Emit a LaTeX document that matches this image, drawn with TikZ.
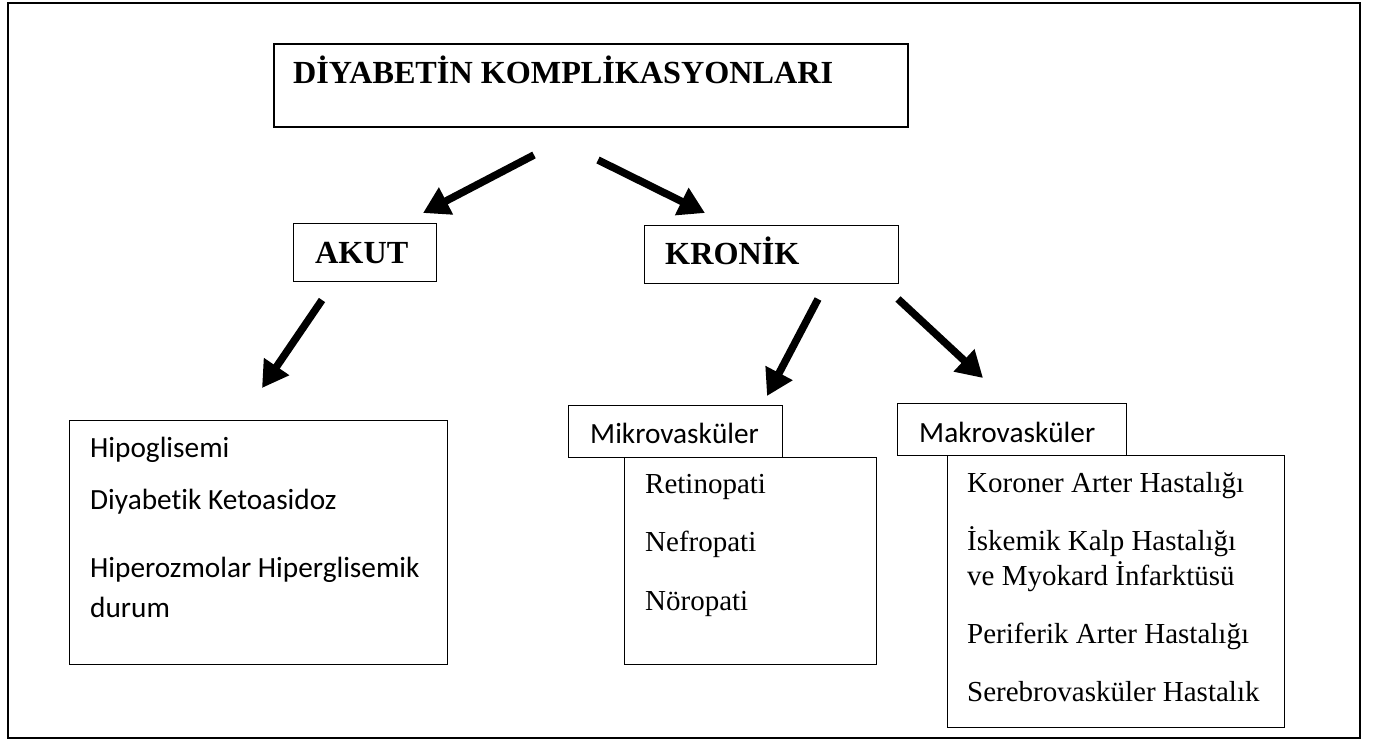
\documentclass[tikz,border=0pt]{standalone}
\usepackage{fontspec}
\setmainfont{Liberation Serif}
\newfontfamily\calfont[Ligatures=NoCommon]{Carlito}
\usetikzlibrary{arrows.meta}
\begin{document}
\begin{tikzpicture}[x=1pt,y=-1pt,
  boxbase/.style={draw, rectangle, inner sep=0pt, anchor=north west},
  heavybox/.style={boxbase, line width=1.7pt},
  midbox/.style={boxbase, line width=1.4pt},
  lightbox/.style={boxbase, line width=1.1pt},
  headtxt/.style={anchor=base west, inner sep=0pt, font=\fontsize{32.2}{38}\selectfont\bfseries},
  sertxt/.style={anchor=base west, inner sep=0pt, font=\fontsize{29}{34}\selectfont},
  caltxt/.style={anchor=base west, inner sep=0pt, font=\calfont\fontsize{29.3}{35}\selectfont},
  bigarrow/.style={line width=7.5pt, -{Triangle[width=29pt,length=26pt]}}
]
\useasboundingbox (0,0) rectangle (1375,742);

% outer frame
\node[heavybox, minimum width=1352pt, minimum height=735pt] (outer) at (7,2) {};

% boxes
\node[heavybox, minimum width=634pt, minimum height=83pt] (title) at (273,43) {};
\node[midbox, minimum width=143pt, minimum height=58pt] (akut) at (293,223) {};
\node[midbox, minimum width=254pt, minimum height=58pt] (kronik) at (644,225) {};
\node[lightbox, minimum width=378pt, minimum height=244pt] (akutlist) at (69,420) {};
\node[lightbox, minimum width=252pt, minimum height=207pt] (mikrolist) at (624,457) {};
\node[lightbox, minimum width=337pt, minimum height=272pt] (makrolist) at (947,455) {};
\node[midbox, minimum width=214pt, minimum height=52pt] (mikro) at (568,405) {};
\node[midbox, minimum width=229pt, minimum height=52pt] (makro) at (897,403) {};

% texts
\node[headtxt] (titletxt) at (293,83) {DİYABETİN KOMPLİKASYONLARI};
\node[headtxt] (akuttxt) at (315,263) {AKUT};
\node[headtxt] (kroniktxt) at (665,264) {KRONİK};

\node[caltxt] (mikrotxt) at (590,443) {Mikrovasküler};
\node[caltxt] (makrotxt) at (919,442) {Makrovasküler};

\node[caltxt] (a1) at (90,457) {Hipoglisemi};
\node[caltxt] (a2) at (90,509) {Diyabetik Ketoasidoz};
\node[caltxt] (a3) at (90,577) {Hiperozmolar Hiperglisemik};
\node[caltxt] (a4) at (90,617) {durum};

\node[sertxt] (m1) at (645,493) {Retinopati};
\node[sertxt] (m2) at (645,551) {Nefropati};
\node[sertxt] (m3) at (645,610) {Nöropati};

\node[sertxt] (k1) at (967,492) {Koroner Arter Hastalığı};
\node[sertxt] (k2) at (967,550) {İskemik Kalp Hastalığı};
\node[sertxt] (k3) at (967,585) {ve Myokard İnfarktüsü};
\node[sertxt] (k4) at (967,643) {Periferik Arter Hastalığı};
\node[sertxt] (k5) at (967,701) {Serebrovasküler Hastalık};

% arrow end points
\coordinate (s1) at (534,155); \coordinate (e1) at (423,213);
\coordinate (s2) at (598,160); \coordinate (e2) at (705,213);
\coordinate (s3) at (322,300); \coordinate (e3) at (262,388);
\coordinate (s4) at (818,299); \coordinate (e4) at (767,396);
\coordinate (s5) at (898,299); \coordinate (e5) at (983,378);

\draw[bigarrow] (s1) -- (e1);
\draw[bigarrow] (s2) -- (e2);
\draw[bigarrow] (s3) -- (e3);
\draw[bigarrow] (s4) -- (e4);
\draw[bigarrow] (s5) -- (e5);
\end{tikzpicture}
\end{document}
